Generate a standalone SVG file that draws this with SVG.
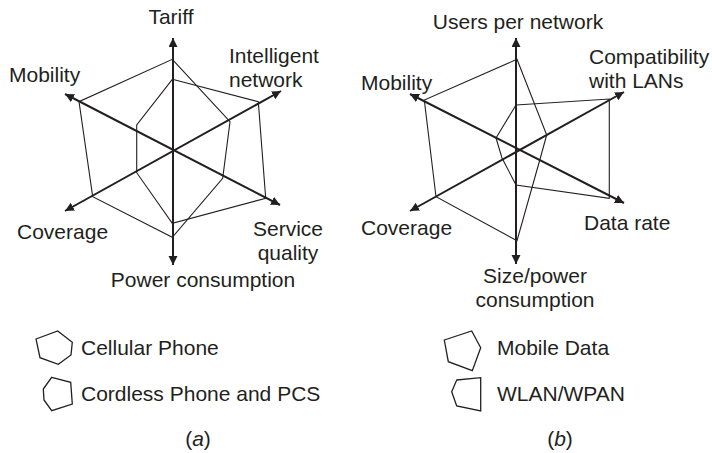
<svg xmlns="http://www.w3.org/2000/svg" width="712" height="453" viewBox="0 0 712 453">
<style>
text{font-family:"Liberation Sans",Arial,sans-serif;font-size:21px;fill:#231f20}
.ax{stroke:#231f20;stroke-width:2;fill:none;marker-start:url(#ah);marker-end:url(#ah)}
.pg{stroke:#231f20;stroke-width:1.1;fill:none;stroke-linejoin:miter}
.lg{stroke:#231f20;stroke-width:1.3;fill:none}
</style>
<defs>
<marker id="ah" markerUnits="userSpaceOnUse" markerWidth="12" markerHeight="12" refX="9" refY="4.5" orient="auto-start-reverse">
<path d="M0,0 L9,4.5 L0,9 Z" fill="#231f20"/>
</marker>
</defs>
<rect width="712" height="453" fill="#fff"/>
<g id="connectors">
<line class="ax" x1="173" y1="265" x2="173" y2="38"/>
<line class="ax" x1="65" y1="94" x2="280" y2="205"/>
<line class="ax" x1="65" y1="211" x2="281" y2="91"/>
<line class="ax" x1="516" y1="264" x2="516" y2="38"/>
<line class="ax" x1="410" y1="94" x2="624" y2="203"/>
<line class="ax" x1="410" y1="211" x2="624" y2="92"/>
</g>
<g id="chart-a">
<polygon id="a-cellular" class="pg" points="172.3,59.3 230,121.7 222.7,178.3 172.3,237.3 92.7,196.7 79,101.7"/>
<polygon id="a-cordless" class="pg" points="172.3,79.3 258.3,101.7 265.7,198.3 172.3,223.3 136.7,172.7 136.7,125"/>
</g>
<g id="chart-b">
<polygon id="b-mobile" class="pg" points="517,59.3 546.7,135 539.5,161 517,240.7 436,196.7 424.3,100"/>
<polygon id="b-wlan" class="pg" points="516,105 609.3,99 609.3,198.3 516,185 502,158 496,138"/>
</g>
<g id="labels-a">
<text x="171" y="24" text-anchor="middle">Tariff</text>
<text x="229" y="63">Intelligent</text>
<text x="229" y="87">network</text>
<text x="9" y="82">Mobility</text>
<text x="17" y="239">Coverage</text>
<text x="288" y="236" text-anchor="middle">Service</text>
<text x="288" y="260" text-anchor="middle">quality</text>
<text x="203" y="287" text-anchor="middle">Power consumption</text>
</g>
<g id="labels-b">
<text x="518" y="29" text-anchor="middle">Users per network</text>
<text x="589" y="64">Compatibility</text>
<text x="589" y="88">with LANs</text>
<text x="361" y="90">Mobility</text>
<text x="361" y="235">Coverage</text>
<text x="584" y="230">Data rate</text>
<text x="535" y="283" text-anchor="middle">Size/power</text>
<text x="535" y="307" text-anchor="middle">consumption</text>
</g>
<g id="legend-a">
<polygon class="lg" points="36,339 57.7,331 72.3,342.3 71,355 58.3,364.3 40,357.7"/>
<text x="81" y="355">Cellular Phone</text>
<polygon class="lg" points="51.7,377.3 70.7,382.3 72.3,404 51.7,410.7 44,400 43.3,389"/>
<text x="81" y="401">Cordless Phone and PCS</text>
<text x="198" y="446" text-anchor="middle">(<tspan font-style="italic">a</tspan>)</text>
</g>
<g id="legend-b">
<polygon class="lg" points="444.3,340 471.7,331 480.7,347.7 472.3,370.7 448.3,361.7"/>
<text x="497" y="355">Mobile Data</text>
<polygon class="lg" points="456.7,380 480.7,377.7 480.7,411 456.7,406 451.7,391.7"/>
<text x="497" y="401">WLAN/WPAN</text>
<text x="560" y="446" text-anchor="middle">(<tspan font-style="italic">b</tspan>)</text>
</g>
</svg>
